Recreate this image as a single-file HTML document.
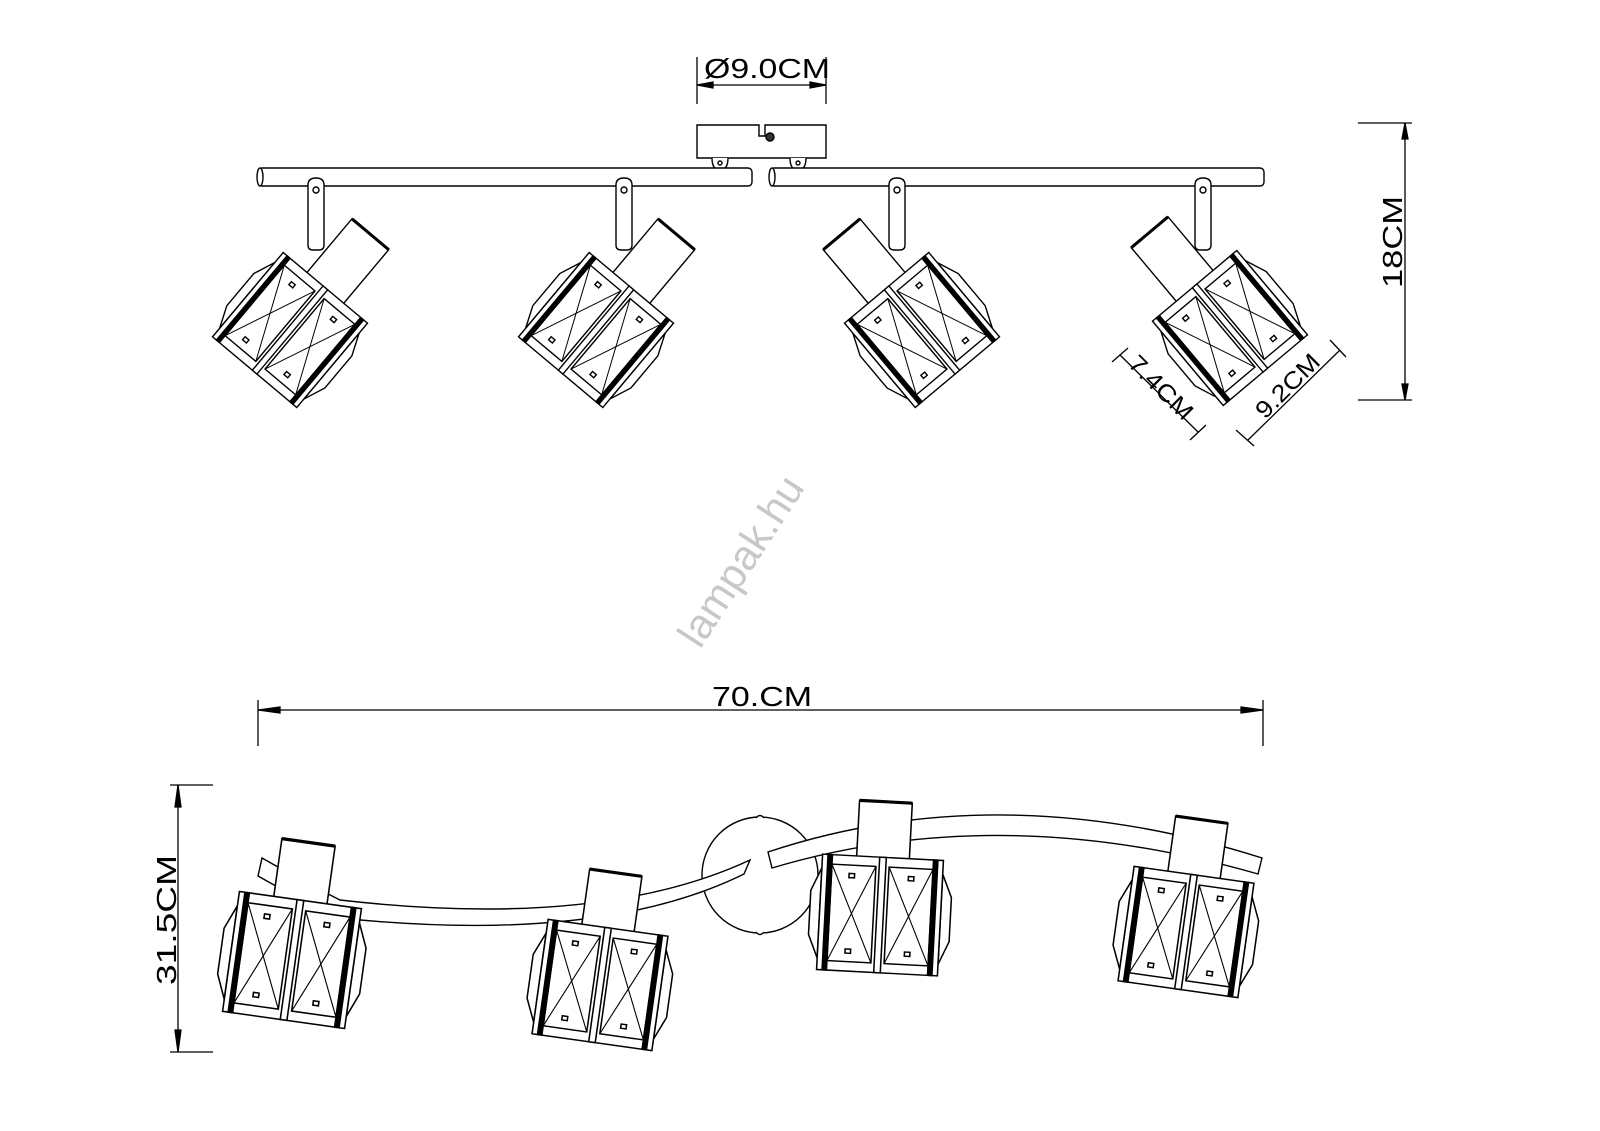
<!DOCTYPE html>
<html><head><meta charset="utf-8"><style>
html,body{margin:0;padding:0;background:#fff}
svg{display:block}
text{font-family:"Liberation Sans",sans-serif;}
</style></head><body>
<svg width="1600" height="1131" viewBox="0 0 1600 1131" xmlns="http://www.w3.org/2000/svg">
<defs>
<g id="body" fill="#fff" stroke="#000" stroke-width="1.4">
  <polygon points="-55,-42 -64,-20 -64,22 -55,44"/>
  <polygon points="55,-42 64,-20 64,22 55,44"/>
  <rect x="-55" y="-55" width="110" height="110"/>
  <rect x="-46" y="-46" width="40" height="92"/>
  <rect x="6" y="-46" width="40" height="92"/>
  <path d="M-46,-46 L-6,46 M-6,-46 L-46,46 M6,-46 L46,46 M46,-46 L6,46" fill="none" stroke-width="1"/>
  <rect x="-50" y="-55" width="4" height="110" fill="#000"/>
  <rect x="-3" y="-55" width="6" height="110" fill="#fff"/>
  <rect x="46" y="-55" width="4" height="110" fill="#000"/>
  <rect x="-30" y="-38" width="5" height="4"/><rect x="-30" y="34" width="5" height="4"/>
  <rect x="24" y="-38" width="5" height="4"/><rect x="24" y="34" width="5" height="4"/>
</g>
<g id="shade" fill="#fff" stroke="#000" stroke-width="1.4">
  <rect x="-24" y="-125" width="48" height="75"/>
  <line x1="-24" y1="-125" x2="24" y2="-125" stroke-width="3"/>
  <use href="#body"/>
</g>
<g id="shadeB" fill="#fff" stroke="#000" stroke-width="1.4">
  <rect x="-24" y="-108" width="48" height="60"/>
  <line x1="-24" y1="-108" x2="24" y2="-108" stroke-width="3"/>
  <use href="#body"/>
</g>
<g id="bracket" fill="#fff" stroke="#000" stroke-width="1.4">
  <path d="M-8,-5 L-8,55 Q-8,60 -3,60 L3,60 Q8,60 8,55 L8,-5 Q8,-12 0,-12 Q-8,-12 -8,-5 Z"/>
  <circle cx="0" cy="0" r="3"/>
</g>
</defs>

<g stroke="#000" stroke-width="1.3" fill="none">
  <line x1="697" y1="57" x2="697" y2="104"/>
  <line x1="826" y1="57" x2="826" y2="104"/>
  <line x1="697" y1="85" x2="826" y2="85"/>
  <path d="M697,85 l16,-3 l0,6 z M826,85 l-16,-3 l0,6 z" fill="#000"/>
</g>
<text x="704" y="78" font-size="28" fill="#000" textLength="126" lengthAdjust="spacingAndGlyphs">Ø9.0CM</text>

<g fill="#fff" stroke="#000" stroke-width="1.4">
  <path d="M697,125 L759,125 L759,136 L765,136 L765,125 L826,125 L826,158 L697,158 Z"/>
  <circle cx="770" cy="137" r="4" fill="#333"/>
  <path d="M712,158 Q712,170 720,170 Q728,170 728,158"/><circle cx="720" cy="163" r="2"/>
  <path d="M790,158 Q790,170 798,170 Q806,170 806,158"/><circle cx="798" cy="163" r="2"/>
  <rect x="258" y="168" width="494" height="18" rx="4"/>
  <ellipse cx="260" cy="177" rx="3" ry="9"/>
  <rect x="770" y="168" width="494" height="18" rx="4"/>
  <ellipse cx="772" cy="177" rx="3" ry="9"/>
</g>

<use href="#bracket" x="316" y="190"/>
<use href="#bracket" x="624" y="190"/>
<use href="#bracket" x="897" y="190"/>
<use href="#bracket" x="1203" y="190"/>

<g transform="translate(290,330) rotate(40)"><use href="#shade"/></g>
<g transform="translate(596,330) rotate(40)"><use href="#shade"/></g>
<g transform="translate(922,330) rotate(-40)"><use href="#shade"/></g>
<g transform="translate(1230,328) rotate(-40)"><use href="#shade"/></g>

<g stroke="#000" stroke-width="1.3" fill="none">
  <line x1="1358" y1="123" x2="1412" y2="123"/>
  <line x1="1358" y1="400" x2="1412" y2="400"/>
  <line x1="1405" y1="123" x2="1405" y2="400"/>
  <path d="M1405,123 l-3,16 l6,0 z M1405,400 l-3,-16 l6,0 z" fill="#000"/>
</g>
<text transform="translate(1402,288) rotate(-90)" font-size="28" textLength="92" lengthAdjust="spacingAndGlyphs">18CM</text>

<g stroke="#000" stroke-width="1.3" fill="none">
  <line x1="1112" y1="362" x2="1128" y2="348"/>
  <line x1="1190" y1="440" x2="1206" y2="425"/>
  <line x1="1120" y1="355" x2="1198" y2="432"/>
  <line x1="1236" y1="430" x2="1254" y2="446"/>
  <line x1="1330" y1="340" x2="1346" y2="357"/>
  <line x1="1248" y1="440" x2="1340" y2="350"/>
</g>
<text transform="translate(1127,365) rotate(45)" font-size="24" textLength="80" lengthAdjust="spacingAndGlyphs">7.4CM</text>
<text transform="translate(1265,420) rotate(-45)" font-size="24" textLength="80" lengthAdjust="spacingAndGlyphs">9.2CM</text>

<text transform="translate(700,650) rotate(-57)" font-size="42" fill="#c8c8c8">lampak.hu</text>

<g stroke="#000" stroke-width="1.3" fill="none">
  <line x1="258" y1="700" x2="258" y2="746"/>
  <line x1="1263" y1="700" x2="1263" y2="746"/>
  <line x1="258" y1="710" x2="1263" y2="710"/>
  <path d="M258,710 l22,-3 l0,6 z M1263,710 l-22,-3 l0,6 z" fill="#000"/>
</g>
<text x="712" y="706" font-size="28" textLength="100" lengthAdjust="spacingAndGlyphs">70.CM</text>

<g stroke="#000" stroke-width="1.3" fill="none">
  <line x1="170" y1="785" x2="213" y2="785"/>
  <line x1="170" y1="1052" x2="213" y2="1052"/>
  <line x1="178" y1="785" x2="178" y2="1052"/>
  <path d="M178,785 l-3,22 l6,0 z M178,1052 l-3,-22 l6,0 z" fill="#000"/>
</g>
<text transform="translate(176,985) rotate(-90)" font-size="28" textLength="130" lengthAdjust="spacingAndGlyphs">31.5CM</text>

<g fill="#fff" stroke="#000" stroke-width="1.4">
  <circle cx="760" cy="875" r="58"/>
  <path d="M756,818 q4,-5 8,0 M756,932 q4,5 8,0"/>
  <path d="M262,858 Q300,880 340,900 Q600,930 750,860 L744,874 Q600,945 340,918 Q300,900 258,876 Z"/>
  <path d="M768,852 Q1000,775 1262,858 L1258,874 Q1000,800 772,868 Z"/>
</g>
<g transform="translate(292,960) rotate(8)"><use href="#shadeB" transform="scale(1.12,1.1)"/></g>
<g transform="translate(600,985) rotate(8)"><use href="#shadeB" transform="scale(1.1,1.05)"/></g>
<g transform="translate(880,915) rotate(3)"><use href="#shadeB" transform="scale(1.1,1.05)"/></g>
<g transform="translate(1186,932) rotate(8)"><use href="#shadeB" transform="scale(1.1,1.05)"/></g>
</svg>
</body></html>
